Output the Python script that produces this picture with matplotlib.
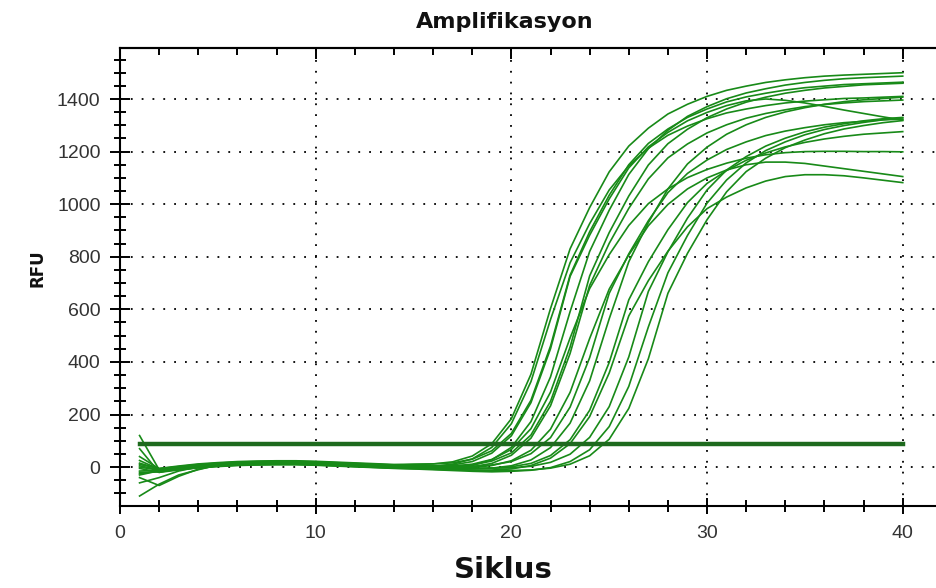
import numpy as np
import matplotlib.pyplot as plt
from matplotlib.ticker import MultipleLocator

plt.rcParams['font.family'] = ['Liberation Sans', 'DejaVu Sans']

cycles = np.arange(1, 41)
threshold = 87

# RFU per cycle (16 wells)
c1 = [25, -8, 1, 9, 14, 18, 20, 21, 21, 19, 16, 13, 10, 7, 10, 12, 20, 42, 89, 184,
      353, 603, 830, 987, 1123, 1221, 1289, 1343, 1380, 1410, 1433, 1449, 1463, 1473, 1481, 1487, 1491, 1494, 1497, 1500]
c2 = [-15, -12, -7, 1, 6, 10, 12, 13, 13, 11, 8, 5, 2, -1, 1, 3, 11, 31, 75, 165,
      325, 561, 777, 926, 1054, 1146, 1213, 1262, 1297, 1325, 1347, 1362, 1375, 1385, 1392, 1397, 1402, 1404, 1407, 1410]
c3 = [10, -5, 4, 12, 17, 21, 23, 24, 24, 22, 19, 16, 13, 10, 11, 12, 16, 30, 62, 128,
      254, 460, 730, 895, 1034, 1150, 1231, 1286, 1330, 1362, 1389, 1408, 1422, 1434, 1443, 1449, 1455, 1458, 1461, 1464]
c4 = [-40, -70, -35, -8, 6, 13, 15, 16, 16, 14, 11, 8, 5, 2, 3, 4, 8, 21, 53, 119,
      245, 450, 725, 882, 1020, 1138, 1218, 1273, 1317, 1349, 1375, 1393, 1400, 1395, 1385, 1372, 1358, 1345, 1332, 1320]
c5 = [-25, -15, -10, -2, 3, 7, 9, 10, 10, 8, 5, 2, -1, -4, -6, -4, -2, 6, 28, 75,
      173, 343, 591, 820, 977, 1113, 1211, 1281, 1334, 1371, 1401, 1423, 1439, 1453, 1463, 1471, 1477, 1481, 1484, 1487]
c6 = [5, -10, -2, 6, 11, 15, 17, 18, 18, 16, 13, 10, 7, 4, 2, 3, 4, 11, 29, 67,
      146, 285, 491, 679, 808, 919, 1002, 1058, 1101, 1132, 1156, 1175, 1188, 1196, 1200, 1201, 1201, 1200, 1200, 1199]
c7 = [0, -12, -1, 7, 12, 16, 18, 19, 19, 17, 14, 11, 8, 5, 3, 3, 4, 8, 23, 54,
      122, 250, 456, 727, 892, 1031, 1149, 1230, 1285, 1329, 1362, 1388, 1407, 1422, 1433, 1442, 1448, 1454, 1457, 1460]
c8 = [-20, -18, -8, 0, 5, 9, 11, 12, 12, 10, 7, 4, 1, -2, -4, -4, -4, 1, 14, 45,
      110, 233, 432, 691, 851, 984, 1096, 1176, 1229, 1271, 1302, 1327, 1345, 1359, 1371, 1379, 1385, 1390, 1393, 1396]
c9 = [-110, -65, -30, -10, 8, 12, 14, 15, 15, 13, 10, 7, 4, 1, -1, -4, -3, -2, 6, 24,
      64, 144, 284, 489, 677, 807, 918, 999, 1058, 1100, 1130, 1150, 1160, 1160, 1155, 1145, 1135, 1125, 1115, 1105]
c10 = [40, -6, 2, 10, 15, 19, 21, 22, 22, 20, 17, 14, 11, 8, 6, 3, 3, 3, 8, 21,
       51, 112, 228, 416, 661, 811, 937, 1044, 1117, 1168, 1208, 1237, 1261, 1278, 1291, 1302, 1310, 1315, 1321, 1323]
c11 = [70, -20, -6, 2, 7, 11, 13, 14, 14, 12, 9, 6, 3, 0, -2, -5, -8, -7, -4, 5,
       27, 74, 167, 328, 564, 781, 930, 1058, 1153, 1217, 1266, 1302, 1330, 1351, 1367, 1380, 1390, 1397, 1402, 1407]
c12 = [120, -10, -3, 5, 10, 14, 16, 17, 17, 15, 12, 9, 6, 3, 1, -2, -5, -5, -4, 1,
       14, 44, 104, 216, 398, 636, 781, 903, 1006, 1079, 1128, 1167, 1195, 1218, 1235, 1248, 1258, 1266, 1271, 1276]
c13 = [-30, -14, -9, -1, 4, 8, 10, 11, 11, 9, 6, 3, 0, -3, -5, -8, -11, -12, -11, -7,
       6, 34, 89, 192, 358, 575, 709, 821, 914, 983, 1027, 1062, 1088, 1105, 1112, 1112, 1108, 1100, 1091, 1082]
c14 = [15, -7, 0, 8, 13, 17, 19, 20, 20, 18, 15, 12, 9, 6, 4, 1, -2, -5, -4, -3,
       3, 18, 49, 113, 230, 419, 668, 819, 947, 1054, 1130, 1181, 1221, 1251, 1275, 1293, 1306, 1317, 1325, 1330]
c15 = [-5, -20, -11, -3, 2, 6, 8, 9, 9, 7, 4, 1, -2, -5, -7, -10, -13, -16, -18, -16,
       -12, -2, 21, 66, 154, 307, 533, 739, 881, 1004, 1092, 1157, 1204, 1237, 1264, 1284, 1299, 1311, 1321, 1328]
c16 = [-60, -40, -15, 1, 6, 10, 12, 13, 13, 11, 8, 5, 2, -1, -3, -6, -9, -12, -14, -13,
       -11, -4, 11, 43, 106, 223, 412, 661, 813, 941, 1047, 1124, 1175, 1215, 1244, 1268, 1286, 1299, 1310, 1318]

wells = [c1, c2, c3, c4, c5, c6, c7, c8, c9, c10, c11, c12, c13, c14, c15, c16]

fig = plt.figure(figsize=(9.36, 5.88), dpi=100)
ax = fig.add_axes([120/936, 82/588, 816/936, 458/588])

for w in wells:
    ax.plot(cycles, w, color='#188a18', lw=1.2)
ax.plot([cycles[0], cycles[-1]], [threshold, threshold], color='#1e6a1e', lw=3.2)

ax.set_xlim(0, 41.7)
ax.set_ylim(-148, 1594)
ax.xaxis.set_major_locator(MultipleLocator(10))
ax.xaxis.set_minor_locator(MultipleLocator(2))
ax.yaxis.set_major_locator(MultipleLocator(200))
ax.yaxis.set_minor_locator(MultipleLocator(50))
ax.grid(True, which='major', color='black', linestyle=(0, (1, 5)), linewidth=1.3)

ax.spines['right'].set_visible(False)
for s in ['left', 'bottom', 'top']:
    ax.spines[s].set_linewidth(1.5)
ax.tick_params(axis='x', which='both', direction='inout', labelsize=14, width=1.4, pad=8)
ax.tick_params(axis='x', which='major', length=12)
ax.tick_params(axis='x', which='minor', length=8)
ax.tick_params(axis='y', which='both', direction='inout', labelsize=14, width=1.4, pad=7)
ax.tick_params(axis='y', which='major', length=14)
ax.tick_params(axis='y', which='minor', length=9)
for lab in ax.get_xticklabels() + ax.get_yticklabels():
    lab.set_color('#333333')

# top axis: inward ticks only
top = ax.secondary_xaxis('top')
top.xaxis.set_major_locator(MultipleLocator(10))
top.xaxis.set_minor_locator(MultipleLocator(2))
top.tick_params(which='both', direction='in', labeltop=False, width=1.4)
top.tick_params(which='major', length=8)
top.tick_params(which='minor', length=5)
top.spines['top'].set_linewidth(1.5)

fig.text(505/936, 1 - 28/588, 'Amplifikasyon', ha='center', va='baseline',
         fontsize=16, fontweight='bold', family='DejaVu Sans', color='#111111')
fig.text(503/936, 1 - 578/588, 'Siklus', ha='center', va='baseline',
         fontsize=21, fontweight='bold', family='DejaVu Sans', color='#111111')
fig.text(38/936, 1 - 268/588, 'RFU', ha='center', va='center', rotation=90,
         fontsize=12, fontweight='bold', family='DejaVu Sans', color='#111111')

plt.savefig('out.png', dpi=100)
